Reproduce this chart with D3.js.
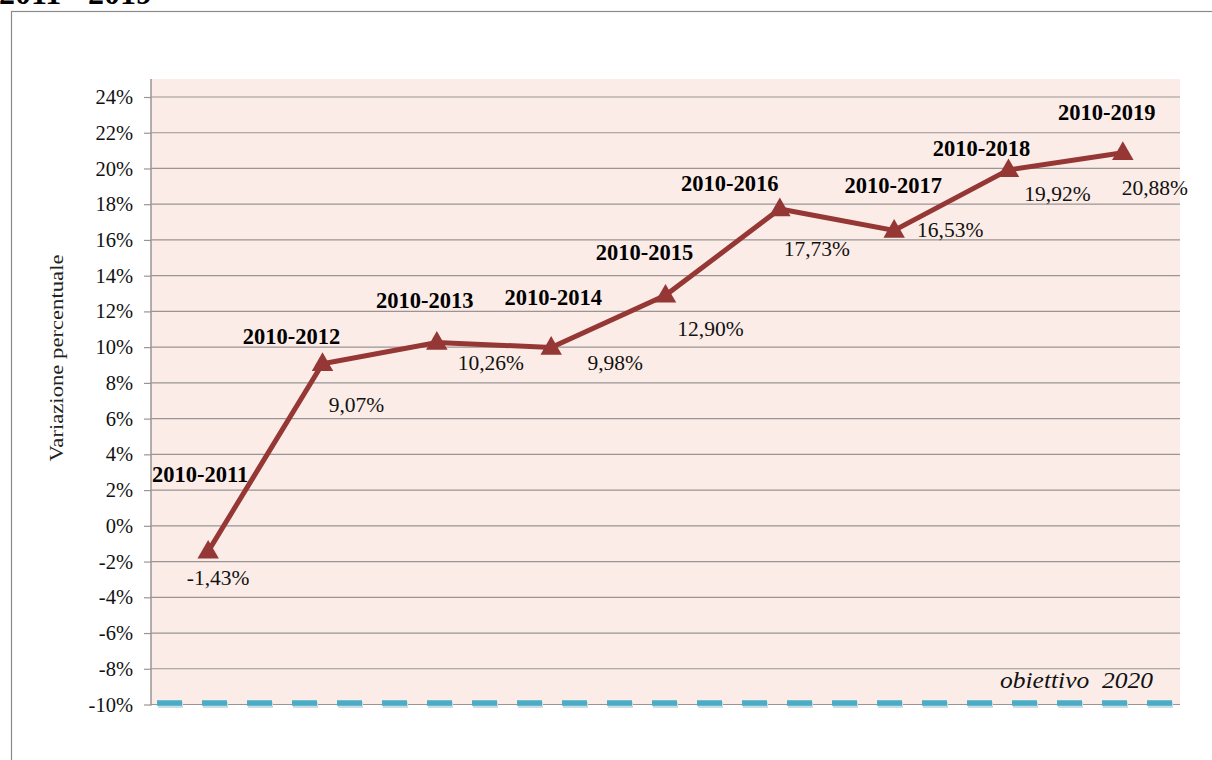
<!DOCTYPE html>
<html><head><meta charset="utf-8">
<script src="https://cdn.jsdelivr.net/npm/d3@7/dist/d3.min.js"></script>
<style>
html,body{margin:0;padding:0;background:#fff;}
svg{display:block;}
</style></head>
<body>
<svg id="chart" width="1212" height="760"></svg>
<script>
// ---- data ----
const categories = ["2010-2011","2010-2012","2010-2013","2010-2014","2010-2015","2010-2016","2010-2017","2010-2018","2010-2019"];
const values = [-1.43, 9.07, 10.26, 9.98, 12.90, 17.73, 16.53, 19.92, 20.88];
const valueLabels = ["-1,43%","9,07%","10,26%","9,98%","12,90%","17,73%","16,53%","19,92%","20,88%"];
const yTicks = [-10,-8,-6,-4,-2,0,2,4,6,8,10,12,14,16,18,20,22,24];
const targetValue = -10;
const targetLabel = "obiettivo  2020";
const yTitle = "Variazione percentuale";
const titleFragment = "2011 - 2019";

// ---- layout (label placement offsets relative to point, in px) ----
const catLabelOffsets = [[-8,-70],[-31,-21],[-12,-36],[2,-44],[-21,-36],[-50,-19],[-1,-38],[-27,-15],[-16,-34]];
const valLabelOffsets = [[10,33],[34,47],[54,26],[64,21],[45,40],[37,46],[56,6],[49,30],[32,41]];

(function(){
const svg = d3.select("#chart");
const serif = "'Liberation Serif','Times New Roman',serif";

// outer frame
svg.append("rect").attr("x",11.5).attr("y",11.5).attr("width",1220).attr("height",760)
  .attr("fill","#fff").attr("stroke","#8a8a8a").attr("stroke-width",1.2);

// title fragment (cut off at top, as in the reference)
svg.append("text").attr("x",-1).attr("y",4).attr("font-family",serif).attr("font-weight","bold")
  .attr("font-size",32).attr("fill","#000").text(titleFragment);

const pLeft = 151, pRight = 1180, pTop = 79, pBottom = 704.5;
const y = d3.scaleLinear().domain([-10,24]).range([pBottom, 97]);
const x = d3.scalePoint().domain(categories).range([pLeft, pRight]).padding(0.5);

// plot background
svg.append("rect").attr("x",pLeft).attr("y",pTop).attr("width",pRight-pLeft).attr("height",pBottom-pTop)
  .attr("fill","#FBECE7");

// gridlines
svg.append("g").selectAll("line").data(yTicks).join("line")
  .attr("x1",pLeft).attr("x2",pRight).attr("y1",d=>y(d)).attr("y2",d=>y(d))
  .attr("stroke","#9a9594").attr("stroke-width",1.2);

// y axis
const yAxis = d3.axisLeft(y).tickValues(yTicks).tickSize(7).tickPadding(11)
  .tickFormat(d=>d+"%");
const gy = svg.append("g").attr("transform",`translate(${pLeft},0)`).call(yAxis);
gy.select(".domain").remove();
gy.selectAll(".tick line").attr("stroke","#9a9594").attr("stroke-width",1.2);
gy.selectAll(".tick text").attr("font-family",serif).attr("font-size",20.5).attr("fill","#111");
svg.append("line").attr("x1",pLeft).attr("x2",pLeft).attr("y1",pTop).attr("y2",pBottom+1)
  .attr("stroke","#9a9594").attr("stroke-width",1.5);

// y title
svg.append("text").attr("transform",`translate(63,358) rotate(-90)`).attr("text-anchor","middle")
  .attr("font-family",serif).attr("font-size",19).attr("fill","#222")
  .attr("textLength",207).attr("lengthAdjust","spacingAndGlyphs").text(yTitle);

// target dashed line
svg.append("line").attr("x1",pLeft+6).attr("x2",pRight).attr("y1",y(targetValue)-1.5).attr("y2",y(targetValue)-1.5)
  .attr("stroke","#c9dde3").attr("stroke-width",6).attr("stroke-dasharray","25,20")
  .attr("transform","translate(1,2)");
svg.append("line").attr("x1",pLeft+6).attr("x2",pRight).attr("y1",y(targetValue)-1.5).attr("y2",y(targetValue)-1.5)
  .attr("stroke","#4BACC6").attr("stroke-width",5.5).attr("stroke-dasharray","25,20");
svg.append("text").attr("x",1153).attr("y",688).attr("text-anchor","end").attr("font-family",serif)
  .attr("font-style","italic").attr("font-size",22.5).attr("fill","#111").attr("xml:space","preserve")
  .attr("textLength",153).attr("lengthAdjust","spacingAndGlyphs")
  .text(targetLabel);

// series line
const pts = categories.map((c,i)=>({c, v:values[i], i}));
svg.append("path").datum(pts)
  .attr("d", d3.line().x(d=>x(d.c)).y(d=>y(d.v)))
  .attr("fill","none").attr("stroke","#953735").attr("stroke-width",5).attr("stroke-linejoin","miter");

// triangle markers
const tri = d3.symbol().type(d3.symbolTriangle).size(200);
svg.append("g").selectAll("path").data(pts).join("path")
  .attr("d",tri).attr("transform",d=>`translate(${x(d.c)},${y(d.v)+1})`)
  .attr("fill","#953735");

// category labels
svg.append("g").selectAll("text").data(pts).join("text")
  .attr("x",d=>x(d.c)+catLabelOffsets[d.i][0]).attr("y",d=>y(d.v)+catLabelOffsets[d.i][1]+1)
  .attr("text-anchor","middle").attr("font-family",serif).attr("font-weight","bold")
  .attr("font-size",22.5).attr("fill","#000").text(d=>d.c);

// value labels
svg.append("g").selectAll("text").data(pts).join("text")
  .attr("x",d=>x(d.c)+valLabelOffsets[d.i][0]).attr("y",d=>y(d.v)+valLabelOffsets[d.i][1]+1)
  .attr("text-anchor","middle").attr("font-family",serif)
  .attr("font-size",21.5).attr("fill","#111").text((d)=>valueLabels[d.i]);
})();
</script>
</body></html>
